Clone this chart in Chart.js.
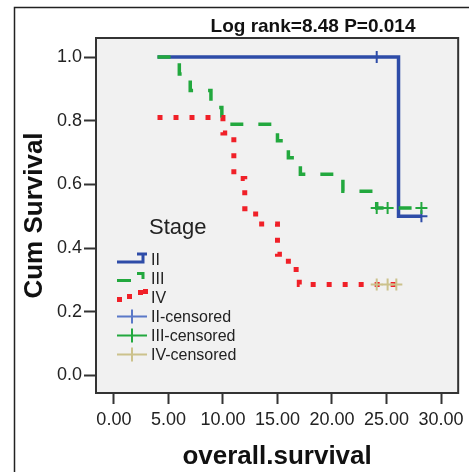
<!DOCTYPE html>
<html>
<head>
<meta charset="utf-8">
<script src="https://cdn.jsdelivr.net/npm/chart.js@4.4.1/dist/chart.umd.min.js"></script>
<style>
  html, body { margin: 0; padding: 0; background: #fff; }
  #wrap { width: 469px; height: 472px; position: relative; }
</style>
</head>
<body>
<div id="wrap"><canvas id="km"></canvas></div>
<script>
// Kaplan-Meier steps: time of the event and survival just after it
const stageIITime = [4.0, 26.1, 28.2];
const stageIISurv = [1.0, 0.5, 0.5];

const stageIIITime = [4.0, 6.0, 7.0, 8.9, 9.9, 15.0, 16.0, 17.1, 21.0, 24.1, 28.2];
const stageIIISurv = [1.0, 0.947, 0.895, 0.842, 0.789, 0.737, 0.684, 0.632, 0.579, 0.526, 0.526];

const stageIVTime = [4.0, 10.0, 11.0, 12.0, 13.0, 15.0, 16.0, 17.0, 25.9];
const stageIVSurv = [0.810, 0.762, 0.619, 0.524, 0.476, 0.381, 0.333, 0.286, 0.286];

// censored cases
const censIITime = [24.1, 28.2];
const censIISurv = [1.0, 0.5];
const censIIITime = [24.1, 25.1, 28.2];
const censIIISurv = [0.526, 0.526, 0.526];
const censIVTime = [24.1, 25.1, 25.9];
const censIVSurv = [0.286, 0.286, 0.286];

const xTicks = [0, 5, 10, 15, 20, 25, 30];
const yTicks = [0, 0.2, 0.4, 0.6, 0.8, 1.0];
const legendLabels = ['II', 'III', 'IV', 'II-censored', 'III-censored', 'IV-censored'];
const titleText = 'Log rank=8.48 P=0.014';

const BLUE = 'rgb(46,76,168)';
const GREEN = 'rgb(34,168,62)';
const RED = 'rgb(240,32,40)';
const KHAKI = 'rgb(204,194,140)';
const FONT = '"Liberation Sans", Arial, sans-serif';

function pts(xs, ys) {
  return xs.map((x, i) => ({ x: x, y: ys[i] }));
}

// background, frames, title and the SPSS style legend
const decor = {
  id: 'decor',
  beforeDraw(chart) {
    const c = chart.ctx, a = chart.chartArea;
    c.save();
    c.fillStyle = '#fff';
    c.fillRect(0, 0, chart.width, chart.height);
    c.strokeStyle = '#222';
    c.lineWidth = 1.5;
    c.beginPath();
    c.moveTo(14.5, chart.height);
    c.lineTo(14.5, 7.5);
    c.lineTo(chart.width, 7.5);
    c.stroke();
    c.fillStyle = '#f1f1f1';
    c.fillRect(a.left, a.top, a.right - a.left, a.bottom - a.top);
    c.restore();
  },
  afterDraw(chart) {
    const c = chart.ctx, a = chart.chartArea;
    c.save();
    c.strokeStyle = '#333';
    c.lineWidth = 2;
    c.strokeRect(a.left, a.top, a.right - a.left, a.bottom - a.top);

    c.fillStyle = '#111';
    c.font = 'bold 19px ' + FONT;
    c.textAlign = 'center';
    c.textBaseline = 'alphabetic';
    c.fillText(titleText, a.left + 217, 32);

    // legend
    const lx = a.left + 21;
    c.textAlign = 'left';
    c.fillStyle = '#222';
    c.font = '22px ' + FONT;
    c.fillText('Stage', a.left + 53, 234);
    c.font = '16px ' + FONT;
    legendLabels.forEach((t, i) => c.fillText(t, a.left + 55, 265 + i * 19));

    c.lineCap = 'butt';
    // II
    c.strokeStyle = BLUE; c.lineWidth = 3;
    c.beginPath();
    c.moveTo(lx, 262); c.lineTo(lx + 26, 262); c.lineTo(lx + 26, 254); c.lineTo(lx + 30, 254);
    c.moveTo(lx + 20, 254); c.lineTo(lx + 27, 254);
    c.stroke();
    // III
    c.strokeStyle = GREEN; c.lineWidth = 3;
    c.beginPath();
    c.moveTo(lx, 280.5); c.lineTo(lx + 14, 280.5);
    c.moveTo(lx + 20, 273.5); c.lineTo(lx + 26, 273.5); c.lineTo(lx + 26, 279);
    c.stroke();
    // IV
    c.fillStyle = RED;
    [[lx, 297], [lx + 10, 294], [lx + 21, 290], [lx + 26, 289]].forEach(p => c.fillRect(p[0], p[1], 5, 5));
    // censored
    [['rgb(90,120,200)', 316.5], [GREEN, 335.5], [KHAKI, 354.5]].forEach(r => {
      c.strokeStyle = r[0]; c.lineWidth = 2;
      c.beginPath();
      c.moveTo(lx, r[1]); c.lineTo(lx + 30, r[1]);
      c.moveTo(lx + 15, r[1] - 7); c.lineTo(lx + 15, r[1] + 7);
      c.stroke();
    });
    c.restore();
  }
};

const lineBase = { type: 'line', stepped: 'before', pointRadius: 0, fill: false, borderCapStyle: 'butt', borderJoinStyle: 'miter' };
const censBase = { type: 'line', showLine: false, pointStyle: 'cross', pointRadius: 6, borderWidth: 2 };

new Chart(document.getElementById('km'), {
  type: 'line',
  data: {
    datasets: [
      Object.assign({}, lineBase, { label: 'II', data: pts(stageIITime, stageIISurv), borderColor: BLUE, borderWidth: 3.5, order: 5 }),
      Object.assign({}, lineBase, { label: 'III', data: pts(stageIIITime, stageIIISurv), borderColor: GREEN, borderWidth: 3.5, borderDash: [13, 15], order: 4 }),
      Object.assign({}, lineBase, { label: 'IV', data: pts(stageIVTime, stageIVSurv), borderColor: RED, borderWidth: 5, borderDash: [5, 11], order: 3 }),
      Object.assign({}, censBase, { label: 'II-censored', data: pts(censIITime, censIISurv), borderColor: BLUE, order: 2 }),
      Object.assign({}, censBase, { label: 'III-censored', data: pts(censIIITime, censIIISurv), borderColor: GREEN, order: 1 }),
      Object.assign({}, censBase, { label: 'IV-censored', data: pts(censIVTime, censIVSurv), borderColor: KHAKI, order: 0 })
    ]
  },
  options: {
    responsive: true,
    maintainAspectRatio: false,
    animation: false,
    events: [],
    layout: { padding: { top: 38, right: 9, bottom: 0, left: 0 } },
    plugins: { legend: { display: false }, tooltip: { enabled: false }, title: { display: false } },
    scales: {
      x: {
        type: 'linear', min: -1.64, max: 31.57,
        afterFit: s => { s.height = 79; },
        afterBuildTicks: s => { s.ticks = xTicks.map(v => ({ value: v })); },
        border: { display: false },
        grid: { drawOnChartArea: false, drawTicks: true, tickLength: 11, tickColor: '#333', tickWidth: 2 },
        ticks: { autoSkip: false, maxRotation: 0, padding: 5, color: '#222', font: { family: FONT, size: 18 },
                 callback: v => v.toFixed(2) },
        title: { display: true, text: 'overall.survival', color: '#111', padding: { top: 0, bottom: 0 },
                 font: { family: FONT, size: 26, weight: 'bold' } }
      },
      y: {
        type: 'linear', min: -0.055, max: 1.06,
        afterFit: s => { s.width = 96; },
        afterBuildTicks: s => { s.ticks = yTicks.map(v => ({ value: v })); },
        border: { display: false },
        grid: { drawOnChartArea: false, drawTicks: true, tickLength: 12, tickColor: '#333', tickWidth: 2 },
        ticks: { padding: 2, color: '#222', font: { family: FONT, size: 18 }, callback: v => v.toFixed(1) },
        title: { display: true, text: 'Cum Survival', color: '#111', padding: { top: 19, bottom: 0 },
                 font: { family: FONT, size: 26, weight: 'bold' } }
      }
    }
  },
  plugins: [decor]
});
</script>
</body>
</html>
